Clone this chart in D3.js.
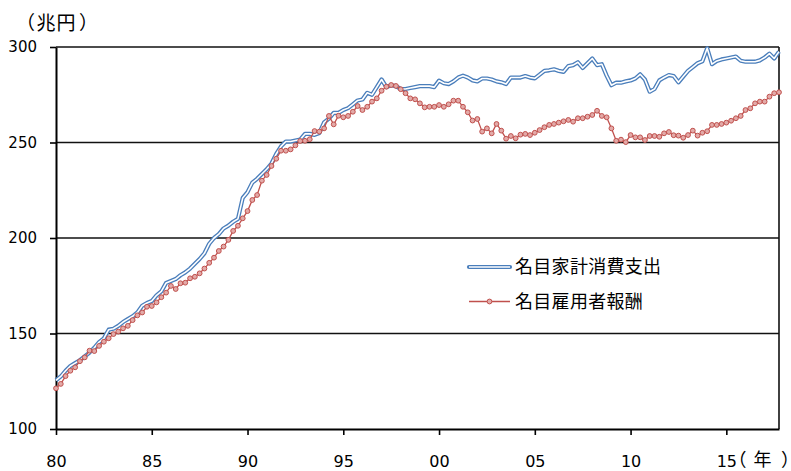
<!DOCTYPE html>
<html>
<head>
<meta charset="utf-8">
<script src="https://cdn.jsdelivr.net/npm/d3@7"></script>
<style>
  body { margin: 0; background: #fff; }
  svg { display: block; }
  .unit { text-spacing-trim: space-all; font-feature-settings: "chws" 0, "palt" 0; }
  .unit .bracket { font-feature-settings: "halt" 1; }
</style>
</head>
<body>
<svg id="chart" width="791" height="471"></svg>
<script>
// Quarterly series, 1980 Q1 – 2017 Q4 (trillion yen, annualised)
const startYear = 1980;

const consumption = [
  125.5, 127.5, 130.5, 133,     // 1980
  134.5, 136, 138, 140,         // 1981
  142.5, 145.5, 147.5, 152,     // 1982
  152.5, 154, 156, 157.5,       // 1983
  159, 161, 164.5, 166,         // 1984
  167, 170, 172, 176.5,         // 1985
  177.5, 178.5, 180.5, 182,     // 1986
  184, 186.5, 189, 192,         // 1987
  197, 200, 202, 205,           // 1988
  206.5, 208.5, 210, 221,       // 1989
  224, 229, 231, 233.5,         // 1990
  236, 239, 244, 248,           // 1991
  250.5, 250.5, 251, 251.5,     // 1992
  254.5, 254.5, 254, 255,       // 1993
  260.5, 262.5, 265.5, 265.5,   // 1994
  267, 268, 270, 272,           // 1995
  272.5, 276, 275, 279,         // 1996
  283, 279, 280, 279.5,         // 1997
  278, 278, 278.5, 279,         // 1998
  279.5, 279.5, 279.5, 279,     // 1999
  282.4, 281, 280.6, 282,       // 2000
  284, 285, 284, 282.5,         // 2001
  282, 283.5, 283.5, 283,       // 2002
  282, 281.5, 280.6, 284,       // 2003
  284, 284, 284.8, 284,         // 2004
  283.6, 285.5, 287.5, 287.8,   // 2005
  288.3, 287.5, 287, 290,       // 2006
  290.5, 292, 289, 291.5,       // 2007
  294, 290.5, 291, 285,         // 2008
  280, 281.3, 281.3, 282,       // 2009
  282.5, 283.5, 285.7, 283,     // 2010
  276.6, 278, 282.5, 284,       // 2011
  285.3, 284.8, 281.5, 284.5,   // 2012
  287.5, 289.5, 291.5, 292.5,   // 2013
  299.3, 291, 292.7, 293.5,     // 2014
  294, 294.5, 295, 292.8,       // 2015
  292.3, 292.3, 292.3, 293,     // 2016
  294.5, 296.5, 294, 297.6      // 2017
];

const compensation = [
  121.3, 123.6, 127.7, 130.5,   // 1980
  132.3, 135.5, 137.5, 141,     // 1981
  140.8, 143.5, 145.7, 147.5,   // 1982
  149.7, 151, 152.7, 154,       // 1983
  157, 159.5, 161, 164,         // 1984
  164.4, 166.3, 169, 171.4,     // 1985
  174.9, 173.3, 176.3, 176.6,   // 1986
  178.9, 179.7, 181.5, 184,     // 1987
  187, 189.7, 193.2, 195.5,     // 1988
  199, 203.7, 206.4, 210.3,     // 1989
  214.1, 219.9, 222.5, 230,     // 1990
  233, 237.7, 241.5, 245.7,     // 1991
  245.7, 246.4, 248.5, 250.8,   // 1992
  250.9, 251.7, 256, 255.7,     // 1993
  257.4, 263.9, 259.5, 264,     // 1994
  263.2, 263.9, 266.1, 269.1,   // 1995
  267, 268.7, 271.4, 273.1,     // 1996
  277.1, 279.2, 280.1, 279.6,   // 1997
  277.9, 275.8, 273.1, 272.6,   // 1998
  270.5, 268.4, 268.7, 268.7,   // 1999
  269.6, 268.7, 270, 271.9,     // 2000
  271.9, 268.7, 265.8, 261.5,   // 2001
  262.3, 255.7, 257.4, 254.8,   // 2002
  259.7, 256.2, 252, 253.4,     // 2003
  252.2, 254.1, 254.5, 253.9,   // 2004
  255.1, 256.5, 258, 259.2,     // 2005
  259.7, 260.4, 261.1, 261.8,   // 2006
  260.9, 262.7, 262.7, 263.5,   // 2007
  264.4, 266.6, 263.9, 263.2,   // 2008
  257.4, 250.9, 251.5, 250.2,   // 2009
  253.9, 252.7, 252.7, 251.3,   // 2010
  253.4, 253.4, 253, 254.8,     // 2011
  255.5, 253.8, 253.6, 252.5,   // 2012
  253.9, 256.2, 253.6, 255.1,   // 2013
  255.9, 259.2, 259.2, 259.7,   // 2014
  260.4, 261.4, 262.7, 263.9,   // 2015
  267, 267.9, 270.5, 271.4,     // 2016
  271.4, 274, 275.8, 276.3      // 2017
];

const seriesNames = ["名目家計消費支出", "名目雇用者報酬"];
const yTickValues = [100, 150, 200, 250, 300];
const xTickYears = [1980, 1985, 1990, 1995, 2000, 2005, 2010, 2015];
const xTickLabels = ["80", "85", "90", "95", "00", "05", "10", "15"];
const yUnitLabel = "（兆円）";
const xUnitLabel = "（年）";

// time position of each quarterly observation
const quarterTime = consumption.map((_, i) => startYear + i / 4);

const svg = d3.select("#chart");
const plotLeft = 56, plotRight = 779, plotTop = 47, plotBottom = 429;

const x = d3.scaleLinear()
  .domain([startYear, quarterTime[quarterTime.length - 1]])
  .range([plotLeft, plotRight]);
const y = d3.scaleLinear().domain([100, 300]).range([plotBottom, plotTop]);

const numFont = "'DejaVu Sans', Verdana, sans-serif";
const jpFont = "'Noto Sans CJK JP', 'Noto Sans CJK SC', sans-serif";

// horizontal gridlines
svg.append("g")
  .selectAll("line")
  .data(yTickValues.filter(v => v > 100))
  .join("line")
  .attr("x1", plotLeft).attr("x2", plotRight)
  .attr("y1", d => y(d)).attr("y2", d => y(d))
  .attr("stroke", "#111").attr("stroke-width", 1.6);

// right frame edge
svg.append("line")
  .attr("x1", plotRight).attr("x2", plotRight)
  .attr("y1", plotTop).attr("y2", plotBottom)
  .attr("stroke", "#111").attr("stroke-width", 1.6);

// y axis
const yAxis = svg.append("g")
  .attr("transform", `translate(${plotLeft},0)`)
  .call(d3.axisLeft(y).tickValues(yTickValues).tickSize(6).tickSizeOuter(0).tickPadding(13));
yAxis.select(".domain").attr("stroke", "#000").attr("stroke-width", 2);
yAxis.selectAll(".tick line").attr("stroke", "#000").attr("stroke-width", 1.6);
yAxis.selectAll("text")
  .attr("fill", "#000")
  .style("font-family", numFont).style("font-size", "15px");

// x axis
const xAxis = svg.append("g")
  .attr("transform", `translate(0,${plotBottom})`)
  .call(d3.axisBottom(x)
    .tickValues(xTickYears)
    .tickFormat((d, i) => xTickLabels[i])
    .tickSize(6).tickSizeOuter(0).tickPadding(21));
xAxis.select(".domain").attr("stroke", "#000").attr("stroke-width", 2);
xAxis.selectAll(".tick line").attr("stroke", "#000").attr("stroke-width", 1.6);
xAxis.selectAll("text")
  .attr("fill", "#000")
  .style("font-family", numFont).style("font-size", "16px");

// unit labels: each glyph placed on its own so the bracket spacing stays wide;
// brackets use half-width forms so their boxes stay tight round the ink
function unitLabel(str, xs, baseline, size) {
  const t = svg.append("text")
    .attr("class", "unit")
    .attr("y", baseline)
    .style("font-family", jpFont).style("font-size", size + "px");
  Array.from(str).forEach((ch, i) => {
    t.append("tspan")
      .attr("class", /[（）]/.test(ch) ? "bracket" : null)
      .attr("x", xs[i]).text(ch);
  });
}
unitLabel(yUnitLabel, [25.5, 36.5, 56.5, 79], 29.5, 19);
unitLabel(xUnitLabel, [737.5, 753.5, 781], 465.5, 18);

const line = d3.line()
  .x((d, i) => x(quarterTime[i]))
  .y(d => y(d));

const blue = "#4A7EBB", red = "#C0504D", pink = "#E3AAA8";

// consumption: double (outlined) line
svg.append("path").datum(consumption)
  .attr("d", line).attr("fill", "none")
  .attr("stroke", blue).attr("stroke-width", 4.2)
  .attr("stroke-linejoin", "round");
svg.append("path").datum(consumption)
  .attr("d", line).attr("fill", "none")
  .attr("stroke", "#fff").attr("stroke-width", 1.6)
  .attr("stroke-linejoin", "round");

// compensation: line with circle markers
svg.append("path").datum(compensation)
  .attr("d", line).attr("fill", "none")
  .attr("stroke", red).attr("stroke-width", 1.3);
svg.append("g")
  .selectAll("circle")
  .data(compensation)
  .join("circle")
  .attr("cx", (d, i) => x(quarterTime[i]))
  .attr("cy", d => y(d))
  .attr("r", 2.4)
  .attr("fill", pink).attr("stroke", red).attr("stroke-width", 1);

// legend
const legend = svg.append("g");
const lgX1 = 469, lgX2 = 510;
const lgY = [267, 301.5];
legend.append("line")
  .attr("x1", lgX1).attr("x2", lgX2).attr("y1", lgY[0]).attr("y2", lgY[0])
  .attr("stroke", blue).attr("stroke-width", 4.2).attr("stroke-linecap", "round");
legend.append("line")
  .attr("x1", lgX1).attr("x2", lgX2).attr("y1", lgY[0]).attr("y2", lgY[0])
  .attr("stroke", "#fff").attr("stroke-width", 1.6);
legend.append("line")
  .attr("x1", lgX1).attr("x2", lgX2).attr("y1", lgY[1]).attr("y2", lgY[1])
  .attr("stroke", red).attr("stroke-width", 1.3);
legend.append("circle")
  .attr("cx", (lgX1 + lgX2) / 2).attr("cy", lgY[1]).attr("r", 2.4)
  .attr("fill", pink).attr("stroke", red).attr("stroke-width", 1);
legend.selectAll("text.series")
  .data(seriesNames)
  .join("text")
  .attr("class", "series")
  .attr("x", 515)
  .attr("y", (d, i) => lgY[i])
  .attr("dy", "0.35em")
  .style("font-family", jpFont).style("font-size", "18px")
  .style("letter-spacing", "0.3px")
  .text(d => d);
</script>
</body>
</html>
